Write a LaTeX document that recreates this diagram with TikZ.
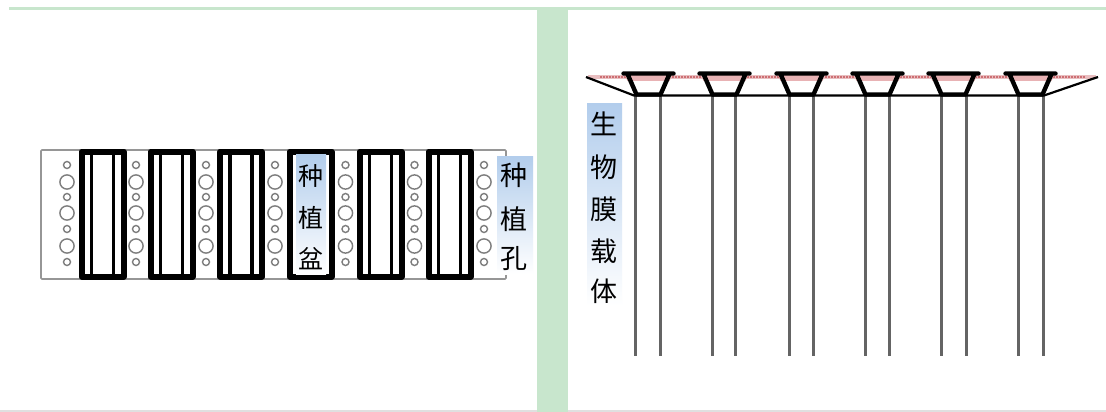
\documentclass[tikz,border=0pt]{standalone}
\usepackage{fontspec}
\newfontfamily\cjk{Noto Sans CJK SC}
\definecolor{barG}{RGB}{200,230,205}
\definecolor{hiB}{RGB}{178,205,236}
\definecolor{rodG}{RGB}{100,100,100}
\definecolor{pinkB}{RGB}{232,178,180}
\definecolor{dashR}{RGB}{205,110,115}
\definecolor{plateG}{RGB}{150,150,150}
\definecolor{holeG}{RGB}{125,125,125}
\tikzset{
  x=1pt,y=-1pt,
  plate/.style={draw=plateG,line width=1.6pt,fill=white,rounded corners=1pt},
  potbox/.style={draw=black,line width=6pt,line join=round},
  potline/.style={draw=black,line width=3.2pt},
  smallhole/.style={draw=holeG,line width=1.4pt,fill=white},
  bighole/.style={draw=holeG,line width=1.4pt,fill=white},
  hilite/.style={top color=hiB,bottom color=white,draw=none},
  cjklabel/.style={font=\cjk\fontsize{#1}{#1}\selectfont,text=black,inner sep=0pt},
  rod/.style={draw=rodG,line width=3pt},
  trap/.style={draw=black,line width=4.4pt,line join=round,line cap=round},
  beam/.style={draw=black,line width=2.2pt}
}
\begin{document}
\begin{tikzpicture}
\useasboundingbox (0,0) rectangle (1106,412);
\fill[white] (0,0) rectangle (1106,412);
% frame
\fill[barG] (9,7) rectangle (1106,10);
\fill[black!12] (0,410) rectangle (1106,412);
\fill[barG] (537,10) rectangle (568,412);
% left plate
\draw[plate] (41,150) rectangle (506,279);
\foreach \cx in {67,136,206,275,345.5,414.5,484}{
  \foreach \yy in {165,197,229,262} \draw[smallhole] (\cx,\yy) circle (3.5);
  \foreach \yy in {182,213,246} \draw[bighole] (\cx,\yy) circle (7.1);
}
\foreach \cx in {102.5,171.5,241,310.5,380.5,449.5}{
  \draw[potbox,fill=white] (\cx-21,151.5) rectangle (\cx+21,276.5);
  \draw[potline] (\cx-11,151) -- (\cx-11,277);
  \draw[potline] (\cx+11,151) -- (\cx+11,277);
}
% labels left
\shade[hilite] (296,154) rectangle (326,274);
\shade[hilite] (497,156) rectangle (533,274);
\node[cjklabel=25] (p1) at (310.5,176) {种};
\node[cjklabel=25] (p2) at (310.5,218) {植};
\node[cjklabel=25] (p3) at (310.5,259) {盆};
\node[cjklabel=27] (h1) at (514,175) {种};
\node[cjklabel=27] (h2) at (514,219) {植};
\node[cjklabel=27] (h3) at (514,259) {孔};
% right
\draw[dashR!45,line width=3.5pt] (588,77) -- (1096,77);
\draw[dashR,line width=1.2pt,dash pattern=on 2pt off 1pt] (600,77) -- (1085,77);
\foreach \cx in {648.5,724.5,801.5,877.5,953.5,1030.5}{
  \fill[white] (\cx-20,81) -- (\cx+20,81) -- (\cx+14,95) -- (\cx-14,95) -- cycle;
  \fill[pinkB] (\cx-24,74) -- (\cx+24,74) -- (\cx+21,81) -- (\cx-21,81) -- cycle;
}
\foreach \xx in {635,660,712,735,789,813,865,889,941,966,1018,1043}
  \draw[rod] (\xx,95) -- (\xx,356);
\draw[beam] (586,77) -- (634,95.5) -- (1044,95.5) -- (1098,77);
\foreach \cx in {648.5,724.5,801.5,877.5,953.5,1030.5}
  \draw[trap] (\cx-25,73.5) -- (\cx+25,73.5) (\cx-21,74) -- (\cx-12,94.5) -- (\cx+12,94.5) -- (\cx+21,74);
\shade[hilite] (587,103) rectangle (622,306);
\node[cjklabel=27] (c1) at (604,124) {生};
\node[cjklabel=27] (c2) at (604,167) {物};
\node[cjklabel=27] (c3) at (604,209) {膜};
\node[cjklabel=27] (c4) at (604,251) {载};
\node[cjklabel=27] (c5) at (604,291) {体};
\end{tikzpicture}
\end{document}
